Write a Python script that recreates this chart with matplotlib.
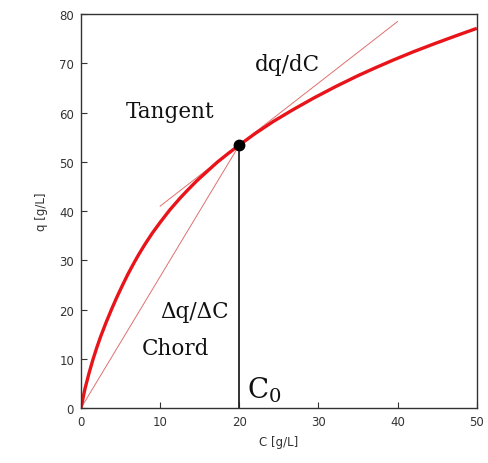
import matplotlib
matplotlib.use("Agg")
from matplotlib import pyplot as plt

# isotherm
C = [0, 0.5, 1.0, 1.5, 2.0, 2.5, 3.2, 3.9, 4.5, 5.2, 5.9, 6.6, 7.3, 8.1, 9.0, 10,
     11.2, 12.5, 13.5, 14.6, 15.9, 17.2, 18.6, 20,
     22.0, 24.3, 26.8, 29.4, 32.2, 35, 37.2, 39.5, 42.0, 44.6, 47.3, 50]
q = [0, 3.9, 7.0, 9.8, 12.3, 14.6, 17.5, 20.2, 22.4, 24.8, 27.1, 29.2, 31.2, 33.3, 35.5, 37.7,
     40.2, 42.6, 44.3, 46.1, 48.0, 49.9, 51.7, 53.4,
     55.75, 58.2, 60.6, 62.95, 65.3, 67.5, 69.1, 70.7, 72.35, 73.95, 75.55, 77.1]

C0 = 20
q0 = 53.4
tangent_C = [10, 40]
tangent_q = [41.0, 78.5]
chord_C = [0, C0]
chord_q = [0, q0]

plt.rcParams['mathtext.fontset'] = 'dejavuserif'

fig = plt.figure(figsize=(4.88, 4.64), dpi=100)
ax = fig.add_axes([0.166, 0.1185, 0.811, 0.849])

ax.plot(tangent_C, tangent_q, color='#e07070', lw=0.7)
ax.plot(chord_C, chord_q, color='#e07070', lw=0.7)
ax.plot(C, q, color='#e8141a', lw=2.4, solid_capstyle='butt', solid_joinstyle='round')
ax.plot([C0, C0], [0, q0], color='#222222', lw=1.3)
ax.plot([C0], [q0], 'o', color='black', ms=7.5)

serif = dict(family='DejaVu Serif', color='#111111')
ax.text(11.3, 60.3, 'Tangent', ha='center', va='center', fontsize=15.5, **serif)
ax.text(26.1, 69.9, 'dq/dC', ha='center', va='center', fontsize=15.5, **serif)
ax.text(14.4, 19.8, 'Δq/ΔC', ha='center', va='center', fontsize=15.5, **serif)
ax.text(11.9, 12.2, 'Chord', ha='center', va='center', fontsize=15.5, **serif)
ax.text(21.0, 3.9, r'$\mathrm{C}_0$', ha='left', va='center', fontsize=20, color='#111111')

ax.set_xlim(0, 50)
ax.set_ylim(0, 80)
ax.set_xticks([0, 10, 20, 30, 40, 50])
ax.set_yticks(range(0, 81, 10))
ax.tick_params(direction='in', length=4, width=0.8, colors='#333333',
               labelsize=8.5, pad=5)
for s in ax.spines.values():
    s.set_color('#333333')
    s.set_linewidth(1.0)
ax.set_xlabel("C [g/L]", fontsize=8.5, color='#333333', labelpad=5)
ax.set_ylabel("q [g/L]", fontsize=8.5, color='#333333', labelpad=8)

plt.savefig("out.png", dpi=100)
